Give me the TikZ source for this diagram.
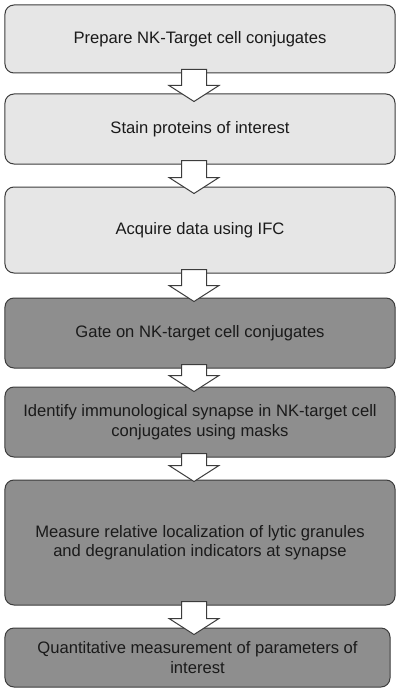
\documentclass[tikz,border=0pt]{standalone}
\usepackage{fontspec}
\setmainfont{Liberation Sans}
\usetikzlibrary{calc}
\definecolor{lightbox}{HTML}{E6E6E6}
\definecolor{darkbox}{HTML}{8E8E8E}
\definecolor{edgegrey}{HTML}{3C3C3C}
\definecolor{txt}{HTML}{1A1A1A}
\tikzset{
  stepbox/.style={draw=edgegrey, line width=1bp, rounded corners=9bp, inner sep=0pt,
    minimum width=390bp, align=center, text=txt,
    font=\fontsize{16.6bp}{19.5bp}\selectfont},
  lightstep/.style={stepbox, fill=lightbox},
  darkstep/.style={stepbox, fill=darkbox},
  blockarr/.style={draw=edgegrey, line width=1bp, fill=white, line join=miter}
}
\newcommand\flowarrow[3]{%
  \draw[blockarr] let \p1=(#1.south), \p2=(#2.north) in
    (\x1-18.5bp,\y1+4bp) -- (\x1+6.5bp,\y1+4bp) -- (\x1+6.5bp,\y2+16bp-#3) --
    (\x1+19bp,\y2+16bp-#3) -- (\x1-6bp,\y2-#3) -- (\x1-31bp,\y2+16bp-#3) --
    (\x1-18.5bp,\y2+16bp-#3) -- cycle;}
\begin{document}
\begin{tikzpicture}[x=1bp,y=-1bp]
\useasboundingbox (0,0) rectangle (400,691);
\node[lightstep, minimum height=68bp] (b1) at (200,39) {Prepare NK-Target cell conjugates};
\node[lightstep, minimum height=70bp] (b2) at (200,129) {Stain proteins of interest};
\node[lightstep, minimum height=86bp] (b3) at (200,230) {Acquire data using IFC};
\node[darkstep, minimum height=70bp] (b4) at (200,333) {Gate on NK-target cell conjugates};
\node[darkstep, minimum height=70bp] (b5) at (200,422) {Identify immunological synapse in NK-target cell\\conjugates using masks};
\node[darkstep, minimum height=125bp] (b6) at (200,542.5) {Measure relative localization of lytic granules\\and degranulation indicators at synapse};
\node[darkstep, minimum height=59bp, minimum width=385bp] (b7) at (197.5,657.5) {Quantitative measurement of parameters of\\interest};
\flowarrow{b1}{b2}{8bp}
\flowarrow{b2}{b3}{7bp}
\flowarrow{b3}{b4}{4bp}
\flowarrow{b4}{b5}{5bp}
\flowarrow{b5}{b6}{2bp}
\flowarrow{b6}{b7}{7bp}
\end{tikzpicture}
\end{document}
